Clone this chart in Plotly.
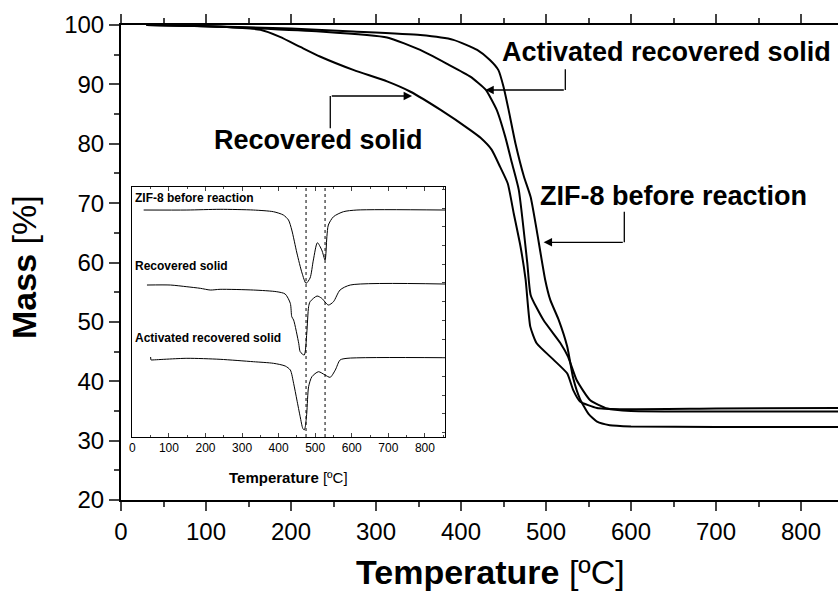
import plotly.graph_objects as go

# ---- TGA curves (main plot): temperature [°C] vs mass [%] ----
t_zif = [30, 100, 200, 273, 352, 391, 419, 434, 444, 450, 456, 464, 474, 482, 489,
         499, 505, 515, 525, 532, 540, 550, 560, 575, 600, 700, 845]
m_zif = [100, 99.8, 99.4, 98.9, 98.3, 97.5, 95.8, 94.1, 92.4, 89.6, 85.7, 80.1, 74.5, 71.0, 65.5,
         57.1, 53.7, 50.3, 45.8, 40.5, 37.0, 34.5, 33.2, 32.6, 32.4, 32.3, 32.3]

t_act = [30, 100, 150, 234, 313, 352, 383, 411, 429, 442, 452, 460, 468, 478, 482,
         497, 517, 526, 536, 552, 572, 600, 700, 845]
m_act = [100, 99.8, 99.5, 98.9, 97.9, 95.8, 93.5, 91.3, 89.1, 85.7, 81.2, 76.7, 72.2, 59.9, 54.5,
         50.3, 46.4, 44.1, 40.2, 36.8, 35.4, 35.0, 34.9, 34.9]

t_rec = [30, 117, 164, 187, 211, 234, 274, 313, 340, 376, 411, 423, 436, 446, 455, 462,
         470, 476, 481.5, 489, 509, 525, 532, 540, 560, 587, 700, 845]
m_rec = [100, 99.7, 99.2, 98.0, 96.3, 94.7, 92.4, 90.5, 88.8, 85.7, 82.3, 81.0, 79.0, 76.1, 73.3, 68.3,
         62.7, 57.1, 49.2, 46.4, 43.6, 41.3, 38.5, 36.6, 35.5, 35.3, 35.4, 35.5]

# ---- DTG curves (inset), stacked with vertical offsets, arbitrary units ----
dt_zif = [31, 149, 240, 331, 386, 413, 427, 436, 450, 464, 475, 486, 495, 506, 518, 527,
          532, 536, 550, 577, 614, 855]
dv_zif = [227, 227, 227.7, 227, 225.3, 222, 217, 207, 184, 164, 153.7, 159, 177, 194.3, 187, 177,
          200.3, 212, 220.3, 225.3, 227, 227]

dt_rec = [40, 104, 149, 186, 213, 240, 331, 395, 418, 432, 436, 441, 455, 459, 470, 477,
          482, 486, 505, 518, 536, 550, 568, 596, 855]
dv_rec = [152, 152, 150.3, 148.7, 147, 147.7, 147, 145.3, 143, 133.7, 120.3, 117, 93.7, 85.3, 82, 104,
          130.3, 135.3, 141, 138.7, 132, 135.3, 147, 152, 153]

dt_act = [50, 51, 52, 149, 240, 331, 386, 418, 432, 441, 450, 459, 466, 470, 473, 477,
          482, 491, 509, 527, 541, 555, 568, 587, 855]
dv_act = [80, 77, 77, 78.7, 77.7, 75.3, 73.7, 71, 67, 53.7, 37, 20.3, 8.7, 7, 10.3, 24,
          50.3, 60.3, 65.3, 62, 59.7, 67, 77, 78.7, 79.3]

dtg_peaks = [475, 527]

x_ticks = [0, 100, 200, 300, 400, 500, 600, 700, 800]
y_ticks = [20, 30, 40, 50, 60, 70, 80, 90, 100]

FONT = "Liberation Sans, Arial, sans-serif"

fig = go.Figure()

for tx, my in [(t_zif, m_zif), (t_act, m_act), (t_rec, m_rec)]:
    fig.add_trace(go.Scatter(x=tx, y=my, mode="lines",
                             line=dict(color="black", width=2, shape="spline", smoothing=0.5),
                             showlegend=False, hoverinfo="skip", xaxis="x", yaxis="y"))

for tx, vy in [(dt_zif, dv_zif), (dt_rec, dv_rec), (dt_act, dv_act)]:
    fig.add_trace(go.Scatter(x=tx, y=vy, mode="lines",
                             line=dict(color="black", width=1, shape="spline", smoothing=0.7),
                             showlegend=False, hoverinfo="skip", xaxis="x2", yaxis="y2"))

# main axes
fig.update_layout(
    width=838, height=596,
    margin=dict(l=121, r=0, t=25, b=96),
    paper_bgcolor="white", plot_bgcolor="white",
    font=dict(family=FONT, color="black"),
    xaxis=dict(range=[0, 843.5], tickvals=x_ticks, ticks="outside", ticklen=9, tickwidth=1.5,
               showline=True, linewidth=2, linecolor="black", mirror="allticks",
               showgrid=False, zeroline=False, tickfont=dict(size=24),
               minor=dict(dtick=50, tick0=0, ticks="outside", ticklen=5, tickwidth=1.5, showgrid=False),
               domain=[0, 1]),
    yaxis=dict(range=[20, 100], tickvals=y_ticks, ticks="outside", ticklen=10, tickwidth=1.5,
               showline=True, linewidth=2, linecolor="black", mirror=False,
               showgrid=False, zeroline=False, tickfont=dict(size=24),
               minor=dict(dtick=5, tick0=0, ticks="outside", ticklen=5, tickwidth=1.5, showgrid=False),
               domain=[0, 1]),
    xaxis2=dict(domain=[0.0153, 0.4519], anchor="y2", range=[-1, 855], tickvals=x_ticks,
                ticks="inside", ticklen=4, tickwidth=1, showline=True, linewidth=1,
                linecolor="black", mirror="allticks", showgrid=False, zeroline=False,
                tickfont=dict(size=12),
                minor=dict(dtick=50, tick0=0, ticks="inside", ticklen=2, tickwidth=1, showgrid=False)),
    yaxis2=dict(domain=[0.1326, 0.6589], anchor="x2", range=[0, 250], side="right",
                tickmode="linear", tick0=4.5, dtick=18.7, ticks="inside", ticklen=3, tickwidth=1,
                showticklabels=False, showline=True, linewidth=1, linecolor="black",
                mirror=True, showgrid=False, zeroline=False),
)

# dotted markers of the two DTG peaks
for tp in dtg_peaks:
    fig.add_shape(type="line", xref="x2", yref="y2 domain", x0=tp, x1=tp, y0=0, y1=1,
                  line=dict(color="black", width=1, dash="dot"))

# axis titles
fig.add_annotation(xref="paper", yref="paper", x=0.515, y=-0.1516, showarrow=False,
                   text="<b>Temperature</b> [ºC]", font=dict(size=34),
                   xanchor="center", yanchor="middle")
fig.add_annotation(xref="paper", yref="paper", x=-0.1353, y=0.4905, showarrow=False,
                   text="<b>Mass</b> [%]", font=dict(size=34), textangle=-90,
                   xanchor="center", yanchor="middle")

# inset axis title and labels
fig.add_annotation(xref="x2", yref="paper", x=427, y=0.0484, showarrow=False,
                   text="<b>Temperature</b> [ºC]", font=dict(size=15),
                   xanchor="center", yanchor="middle")
for label, vy in [("ZIF-8 before reaction", 238.7), ("Recovered solid", 171),
                  ("Activated recovered solid", 98.7)]:
    fig.add_annotation(xref="x2", yref="y2", x=3, y=vy, showarrow=False, text=f"<b>{label}</b>",
                       font=dict(size=12), xanchor="left", yanchor="middle")

# curve labels with elbow arrows
labels = [
    # text, text x, text y, elbow x, elbow top y, arrow y, arrow tip x
    ("Recovered solid", 232.5, 80.6, 246.2, 82.6, 88.04, 342.4),
    ("Activated recovered solid", 642.1, 95.37, 522.7, 92.54, 89.05, 428.6),
    ("ZIF-8 before reaction", 650.2, 71.15, 592.1, 68.55, 63.4, 497.2),
]
for text, tx, ty, ex, ey0, ey1, ax_tip in labels:
    fig.add_annotation(xref="x", yref="y", x=tx, y=ty, showarrow=False, text=f"<b>{text}</b>",
                       font=dict(size=27), xanchor="center", yanchor="middle")
    fig.add_shape(type="line", xref="x", yref="y", x0=ex, x1=ex, y0=ey0, y1=ey1,
                  line=dict(color="black", width=1.3))
    fig.add_annotation(xref="x", yref="y", x=ax_tip, y=ey1, ax=ex, ay=ey1, axref="x", ayref="y",
                       showarrow=True, arrowhead=2, arrowsize=1.3, arrowwidth=1.3,
                       arrowcolor="black", text="")

fig.write_html("out.html")
